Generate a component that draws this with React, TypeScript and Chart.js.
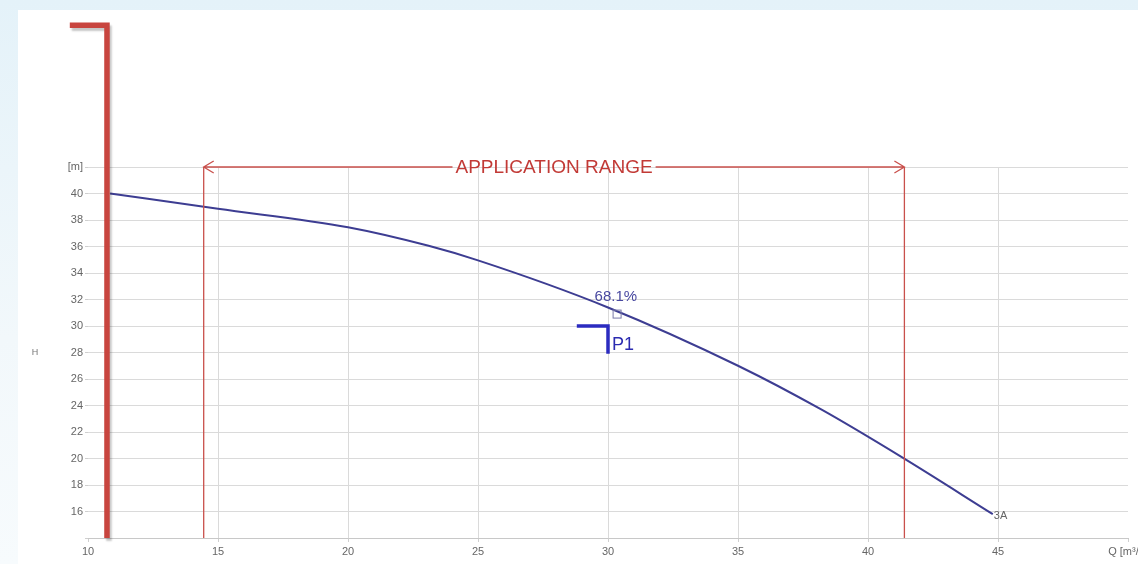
import React, { useEffect, useRef } from "react";
import { Chart, registerables } from "chart.js";

Chart.register(...registerables);

// Pump curve (Q in m³/h, H in m)
const FLOW_Q = [10.85, 15, 20, 23.1, 25, 30, 35, 38.2, 41.3, 44.8];
const HEAD_H = [40.0, 38.85, 37.45, 36.05, 34.95, 31.4, 27.0, 23.7, 20.1, 15.8];

const X_RANGE = [10, 50];
const X_STEP = 5;
const Y_RANGE = [14, 42];
const Y_STEP = 2;
const X_LAST_LABEL = "Q [m³/h]";
const Y_TOP_LABEL = "[m]";
const Y_TITLE = "H";

const APP_RANGE_Q = [14.45, 41.4];
const APP_RANGE_LABEL = "APPLICATION RANGE";

const DUTY_Q = [28.8, 30]; // horizontal arm from..to
const DUTY_H = [30, 27.9]; // vertical arm from..to
const DUTY_LABEL = "P1";

const EFF_POINT = [30.35, 30.9];
const EFF_LABEL = "68.1%";
const EFF_LABEL_POS = [30.3, 32.2];

const CURVE_NAME = "3A";
const CURVE_NAME_POS = [45.1, 15.7];

const BRACKET_Q = [9.3, 10.73];
const BRACKET_H = [52.7, 14];

const FONT = "'Liberation Sans', Arial, sans-serif";

const overlayPlugin = {
  id: "pumpOverlay",
  afterDatasetsDraw(chart: any) {
    const ctx = chart.ctx as CanvasRenderingContext2D;
    const xs = chart.scales.x;
    const ys = chart.scales.y;
    const px = (v: number) => xs.getPixelForValue(v);
    const py = (v: number) => ys.getPixelForValue(v);
    ctx.save();

    // Application range
    const red = "#c9504c";
    const xl = px(APP_RANGE_Q[0]);
    const xr = px(APP_RANGE_Q[1]);
    const yt = py(Y_RANGE[1]);
    const yb = py(Y_RANGE[0]);
    ctx.strokeStyle = red;
    ctx.lineWidth = 1.3;
    ctx.beginPath();
    ctx.moveTo(xl, yt);
    ctx.lineTo(xl, yb);
    ctx.moveTo(xr, yt);
    ctx.lineTo(xr, yb);
    ctx.stroke();

    ctx.font = `19px ${FONT}`;
    const tw = ctx.measureText(APP_RANGE_LABEL).width;
    const xm = (xl + xr) / 2;
    ctx.beginPath();
    ctx.moveTo(xl, yt);
    ctx.lineTo(xm - tw / 2 - 3, yt);
    ctx.moveTo(xm + tw / 2 + 3, yt);
    ctx.lineTo(xr, yt);
    // arrowheads
    ctx.moveTo(xl + 10, yt - 6);
    ctx.lineTo(xl, yt);
    ctx.lineTo(xl + 10, yt + 6);
    ctx.moveTo(xr - 10, yt - 6);
    ctx.lineTo(xr, yt);
    ctx.lineTo(xr - 10, yt + 6);
    ctx.stroke();
    ctx.fillStyle = "#c23a36";
    ctx.textAlign = "center";
    ctx.textBaseline = "middle";
    ctx.fillText(APP_RANGE_LABEL, xm, yt + 1);

    // Efficiency marker
    const ex = px(EFF_POINT[0]);
    const ey = py(EFF_POINT[1]);
    ctx.strokeStyle = "#7a7aa8";
    ctx.lineWidth = 1;
    ctx.strokeRect(ex - 4, ey - 4, 8, 8);
    ctx.fillStyle = "#4848a0";
    ctx.font = `15px ${FONT}`;
    ctx.fillText(EFF_LABEL, px(EFF_LABEL_POS[0]), py(EFF_LABEL_POS[1]));

    // Duty point P1
    ctx.strokeStyle = "#2b2bc0";
    ctx.lineWidth = 3.5;
    ctx.lineCap = "butt";
    ctx.beginPath();
    ctx.moveTo(px(DUTY_Q[0]), py(DUTY_H[0]));
    ctx.lineTo(px(DUTY_Q[1]), py(DUTY_H[0]));
    ctx.lineTo(px(DUTY_Q[1]), py(DUTY_H[1]));
    ctx.stroke();
    ctx.fillStyle = "#2b2bb0";
    ctx.font = `18px ${FONT}`;
    ctx.textAlign = "left";
    ctx.fillText(DUTY_LABEL, px(DUTY_Q[1]) + 4, py((DUTY_H[0] + DUTY_H[1]) / 2 - 0.35));

    // Curve name
    ctx.fillStyle = "#666";
    ctx.font = `11px ${FONT}`;
    ctx.textAlign = "center";
    ctx.fillText(CURVE_NAME, px(CURVE_NAME_POS[0]), py(CURVE_NAME_POS[1]));

    // Y title
    ctx.font = `9px ${FONT}`;
    ctx.fillStyle = "#777";
    ctx.fillText(Y_TITLE, xs.left - 53, py(28));

    // Red bracket
    ctx.shadowColor = "rgba(0,0,0,0.22)";
    ctx.shadowOffsetX = 2;
    ctx.shadowOffsetY = 3;
    ctx.shadowBlur = 2;
    ctx.strokeStyle = "#c8453f";
    ctx.lineWidth = 5.5;
    ctx.lineJoin = "miter";
    ctx.beginPath();
    ctx.moveTo(px(BRACKET_Q[0]), py(BRACKET_H[0]));
    ctx.lineTo(px(BRACKET_Q[1]), py(BRACKET_H[0]));
    ctx.lineTo(px(BRACKET_Q[1]), py(BRACKET_H[1]));
    ctx.stroke();

    ctx.restore();
  },
};

export default function App() {
  const ref = useRef<HTMLCanvasElement | null>(null);

  useEffect(() => {
    if (!ref.current) return;
    const chart = new Chart(ref.current, {
      type: "line",
      data: {
        datasets: [
          {
            label: CURVE_NAME,
            data: FLOW_Q.map((q, i) => ({ x: q, y: HEAD_H[i] })),
            borderColor: "#3d3d92",
            borderWidth: 2,
            pointRadius: 0,
            cubicInterpolationMode: "monotone",
            fill: false,
          },
        ],
      },
      options: {
        animation: false,
        responsive: false,
        maintainAspectRatio: false,
        layout: { padding: { top: 167, right: 10, bottom: 0, left: 0 } },
        plugins: { legend: { display: false }, tooltip: { enabled: false } },
        scales: {
          x: {
            type: "linear",
            min: X_RANGE[0],
            max: X_RANGE[1],
            afterFit: (s: any) => {
              s.height = 26;
              s.paddingLeft = 0;
              s.paddingRight = 0;
            },
            afterBuildTicks: (s: any) => {
              const t = [];
              for (let v = X_RANGE[0]; v <= X_RANGE[1]; v += X_STEP) t.push({ value: v });
              s.ticks = t;
            },
            border: { display: true, color: "#c8c8c8" },
            grid: {
              color: (c: any) =>
                c.tick && (c.tick.value === X_RANGE[0] || c.tick.value === X_RANGE[1])
                  ? "rgba(0,0,0,0)"
                  : "#dadada",
              tickColor: "#cfcfcf",
              tickLength: 4,
            },
            ticks: {
              autoSkip: false,
              maxRotation: 0,
              padding: 3,
              color: "#666",
              font: { family: FONT, size: 11 },
              callback: (v: any) => (v === X_RANGE[1] ? X_LAST_LABEL : String(v)),
            },
          },
          y: {
            type: "linear",
            min: Y_RANGE[0],
            max: Y_RANGE[1],
            afterFit: (s: any) => {
              s.width = 88;
              s.paddingTop = 0;
              s.paddingBottom = 0;
            },
            afterBuildTicks: (s: any) => {
              const t = [];
              for (let v = Y_RANGE[0]; v <= Y_RANGE[1]; v += Y_STEP) t.push({ value: v });
              s.ticks = t;
            },
            border: { display: false },
            grid: {
              color: "#dadada",
              tickColor: "#cfcfcf",
              tickLength: 3,
            },
            ticks: {
              autoSkip: false,
              padding: 2,
              color: "#666",
              font: { family: FONT, size: 11 },
              callback: (v: any) =>
                v === Y_RANGE[1] ? Y_TOP_LABEL : v === Y_RANGE[0] ? "" : String(v),
            },
          },
        },
      },
      plugins: [overlayPlugin],
    } as any);
    return () => chart.destroy();
  }, []);

  return (
    <div
      style={{
        position: "fixed",
        left: 0,
        top: 0,
        width: 1138,
        height: 564,
        overflow: "hidden",
        background: "linear-gradient(180deg, #e4f2f9 0%, #f2f8fb 60%, #f7fbfd 100%)",
      }}
    >
      <div
        style={{
          position: "absolute",
          left: 18,
          top: 10,
          right: 0,
          bottom: 0,
          background: "#ffffff",
        }}
      />
      <canvas
        ref={ref}
        width={1138}
        height={564}
        style={{ position: "absolute", left: 0, top: 0, width: 1138, height: 564 }}
      />
    </div>
  );
}
